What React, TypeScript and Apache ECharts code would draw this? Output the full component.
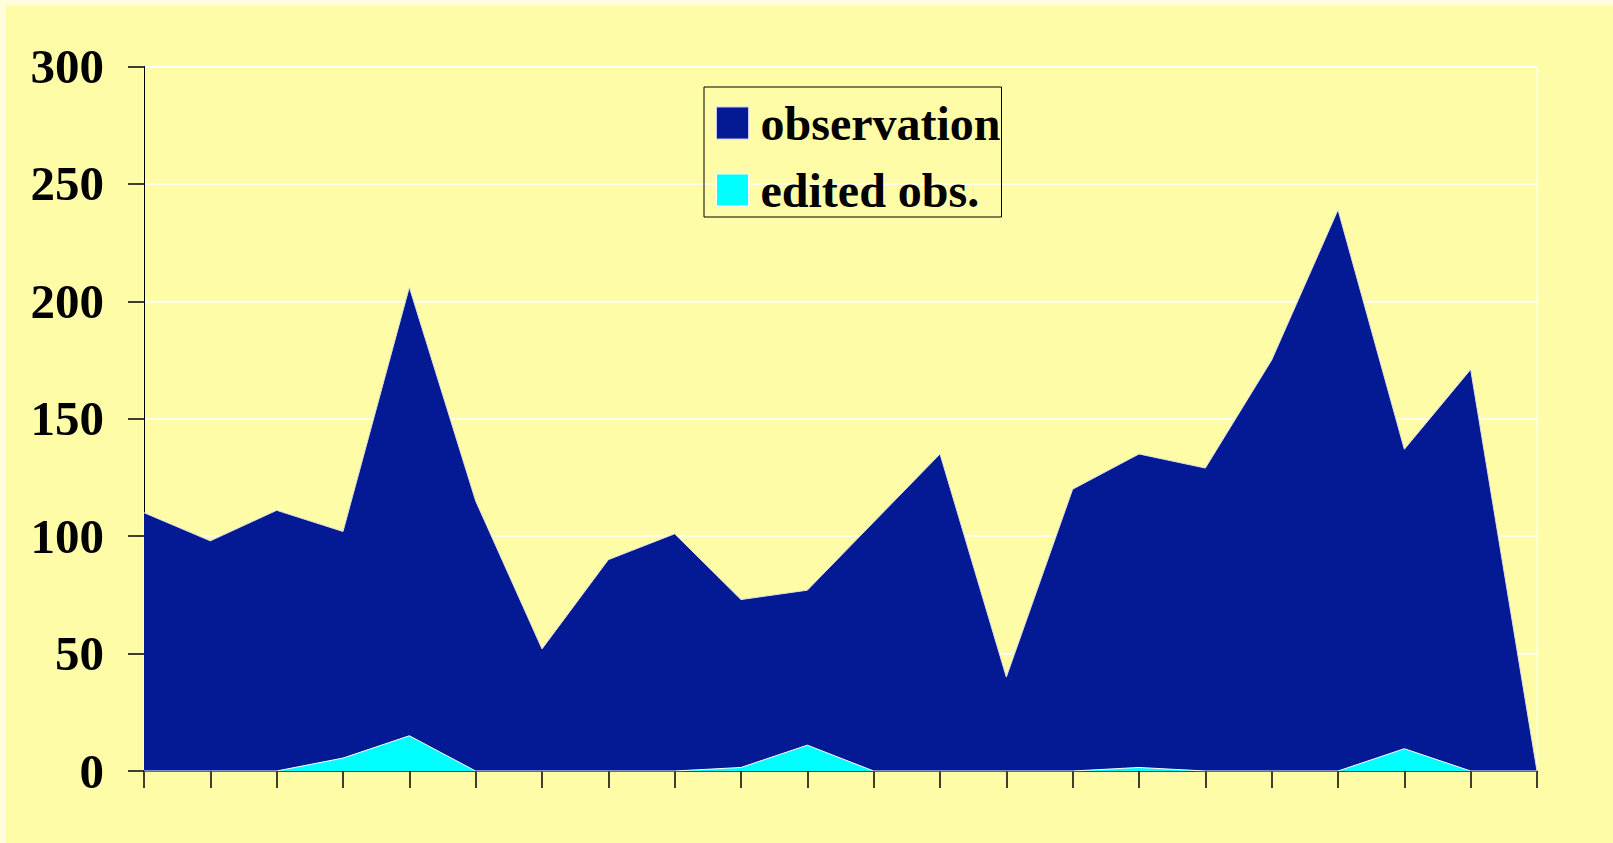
import React, { useEffect, useRef } from "react";
import * as echarts from "echarts";

const categories = Array.from({ length: 22 }, (_, i) => String(i + 1));
const observation = [110, 98, 111, 102, 206, 115, 52, 90, 101, 73, 77, 106, 135, 40, 120, 135, 129, 175, 239, 137, 171, 0];
const edited = [0, 0, 0, 5.5, 15, 0, 0, 0, 0, 1.5, 11, 0, 0, 0, 0, 1.5, 0, 0, 0, 9.5, 0, 0];
const yTicks = { min: 0, max: 300, interval: 50 };

const FONT = '"Liberation Serif", "Times New Roman", serif';

export default function App() {
  const ref = useRef<HTMLDivElement>(null);
  useEffect(() => {
    document.body.style.margin = "0";
    const chart = echarts.init(ref.current!, null, { renderer: "svg" });
    chart.setOption({
      animation: false,
      backgroundColor: "#FFFCA8",
      grid: {
        left: 138,
        right: 76,
        top: 61.5,
        bottom: 72,
        show: true,
        borderColor: "#ffffff",
        borderWidth: 1,
        backgroundColor: "transparent",
      },
      legend: {
        orient: "vertical",
        left: 698,
        top: 82,
        itemWidth: 32,
        itemHeight: 32,
        itemGap: 19,
        padding: [12, 1, 3, 12],
        borderColor: "#000000",
        borderWidth: 1,
        backgroundColor: "transparent",
        textStyle: {
          fontFamily: FONT,
          fontWeight: "bold",
          fontSize: 48,
          color: "#000",
          padding: [0, 0, 0, 7],
        },
        data: [
          { name: "observation", icon: "rect", itemStyle: { color: "#031A94", borderColor: "#c8c8ff", borderWidth: 1 } },
          { name: "edited obs.", icon: "rect", itemStyle: { color: "#00FFFF", borderColor: "#ffffff", borderWidth: 1 } },
        ],
      },
      xAxis: {
        type: "category",
        data: categories,
        boundaryGap: false,
        axisLine: { show: true, lineStyle: { color: "#000", width: 1.5 } },
        axisTick: { show: true, length: 17, alignWithLabel: true, lineStyle: { color: "#000", width: 1.5 } },
        axisLabel: { show: false },
        splitLine: { show: false },
      },
      yAxis: {
        type: "value",
        min: yTicks.min,
        max: yTicks.max,
        interval: yTicks.interval,
        axisLine: { show: true, lineStyle: { color: "#000", width: 1 } },
        axisTick: { show: true, length: 16, lineStyle: { color: "#000", width: 1.5 } },
        axisLabel: {
          margin: 40,
          fontFamily: FONT,
          fontWeight: "bold",
          fontSize: 49,
          color: "#000",
        },
        splitLine: { show: true, lineStyle: { color: "#ffffff", width: 1.5 } },
      },
      series: [
        {
          name: "observation",
          type: "line",
          data: observation,
          showSymbol: false,
          symbol: "none",
          color: "#031A94",
          lineStyle: { color: "#e0e0e0", width: 1 },
          areaStyle: { color: "#031A94", opacity: 1 },
          z: 2,
        },
        {
          name: "edited obs.",
          type: "line",
          data: edited,
          showSymbol: false,
          symbol: "none",
          color: "#00FFFF",
          lineStyle: { color: "#ffffff", width: 1 },
          areaStyle: { color: "#00FFFF", opacity: 1 },
          z: 3,
        },
      ],
    });
    return () => chart.dispose();
  }, []);
  return (
    <div style={{ position: "fixed", left: 0, top: 0, width: 1613, height: 843, background: "#FFFDDA" }}>
      <div ref={ref} style={{ position: "absolute", left: 6, top: 5, width: 1607, height: 838 }} />
    </div>
  );
}
